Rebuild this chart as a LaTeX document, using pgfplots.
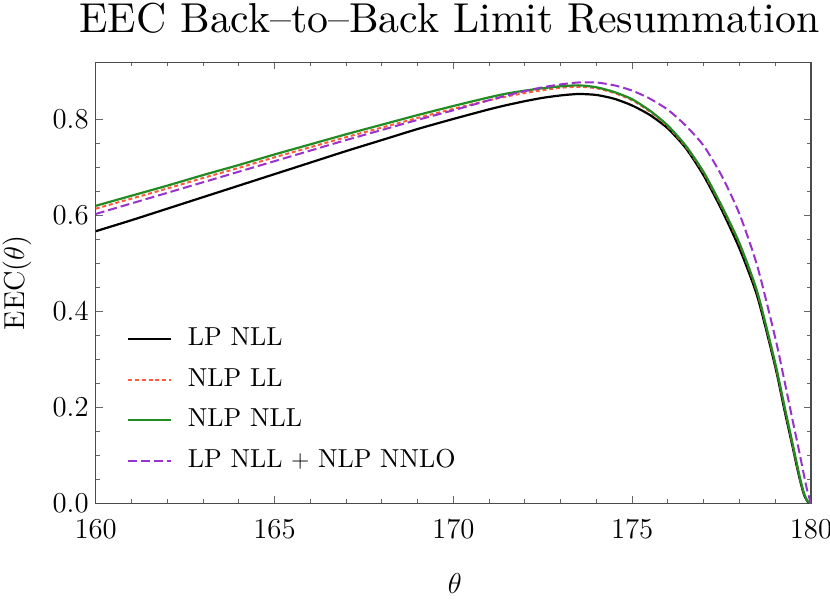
\documentclass[border=0pt]{standalone}
\usepackage{pgfplots}
\pgfplotsset{compat=1.18}
\DeclareFontFamily{TU}{lmrten}{}
\DeclareFontShape{TU}{lmrten}{m}{n}{<-> "[lmroman10-regular]:mapping=tex-text;"}{}
\newcommand\tenrm[2]{\fontfamily{lmrten}\fontseries{m}\fontshape{n}\fontsize{#1}{#2}\selectfont}
\definecolor{cgreen}{RGB}{34,139,34}
\definecolor{corange}{RGB}{255,90,60}
\definecolor{cpurple}{RGB}{153,50,204}
\begin{document}
\begin{tikzpicture}
\useasboundingbox (-47.85pt,-50.35pt) rectangle (367.1pt,251.65pt);
\begin{axis}[
 at={(0,0)}, anchor=south west,
 scale only axis, width=357.6pt, height=220.5pt,
 xmin=160, xmax=180, ymin=0, ymax=0.919,
 xtick={160,165,...,180}, ytick={0,0.2,0.4,0.6,0.8},
 minor x tick num=4, minor y tick num=3,
 tick align=inside,
 major tick length=3.5pt, minor tick length=2pt,
 every tick/.style={black!60, line width=0.5pt},
 axis line style={black!70, line width=0.6pt},
 tick label style={font=\fontsize{14.4}{17}\selectfont},
 xticklabel style={yshift=-5pt},
 yticklabel style={/pgf/number format/.cd, fixed, fixed zerofill, precision=1},
 title={EEC Back--to--Back Limit Resummation},
 title style={at={(0.5,1)}, anchor=base, inner sep=0pt, xshift=-2pt, yshift=8.8pt, font=\tenrm{20.9}{25}},
 xlabel={$\theta$}, ylabel={$\mathrm{EEC}(\theta)$},
 label style={font=\fontsize{14.4}{17}\selectfont},
 xlabel style={at={(axis description cs:0.502,-0.181)}, anchor=center},
 ylabel style={at={(axis description cs:-0.110,0.50)}, anchor=center},
 legend style={at={(axis description cs:0.0433,0.402)}, anchor=north west, draw=none, fill=none,
   inner sep=0pt, font=\tenrm{13}{16}, row sep=7.8pt,
   nodes={inner sep=0pt, text height=9.5pt, text depth=3pt},
   /tikz/every odd column/.append style={column sep=7.8pt}},
 legend cell align=left,
 legend image code/.code={\draw[#1] (0pt,0pt) -- (21.5pt,0pt);},
]
\addplot[black, line width=1.1pt, smooth, tension=0.4] coordinates {
(160,0.567) (161,0.590) (162,0.614) (163,0.638) (164,0.662) (165,0.686) (166,0.710) (167,0.734) (168,0.757) (169,0.780) (170,0.801) (171,0.821) (171.5,0.830) (172,0.838) (172.5,0.845) (173,0.850) (173.5,0.853) (174,0.851) (174.5,0.843) (175,0.829) (175.5,0.809) (176,0.781) (176.5,0.740) (177,0.683) (177.5,0.612) (178,0.531) (178.5,0.431) (179,0.285) (179.25,0.197) (179.5,0.113) (179.6,0.078) (179.7,0.046) (179.8,0.019) (179.9,0.004) (180,0)};
\addlegendentry{LP NLL}
\addplot[corange, line width=1pt, dash pattern=on 2pt off 1.4pt, smooth, tension=0.4] coordinates {
(160,0.614) (161,0.635) (162,0.656) (163,0.678) (164,0.699) (165,0.721) (166,0.742) (167,0.763) (168,0.783) (169,0.803) (170,0.822) (171,0.840) (171.5,0.848) (172,0.855) (172.5,0.861) (173,0.866) (173.5,0.868) (174,0.865) (174.5,0.855) (175,0.840) (175.5,0.816) (176,0.785) (176.5,0.743) (177,0.688) (177.5,0.618) (178,0.540) (178.5,0.438) (179,0.290) (179.25,0.203) (179.5,0.117) (179.6,0.082) (179.7,0.049) (179.8,0.021) (179.9,0.005) (180,0)};
\addlegendentry{NLP LL}
\addplot[cgreen, line width=1.1pt, smooth, tension=0.4] coordinates {
(160,0.620) (161,0.641) (162,0.662) (163,0.684) (164,0.705) (165,0.727) (166,0.748) (167,0.769) (168,0.789) (169,0.809) (170,0.828) (171,0.846) (171.5,0.854) (172,0.860) (172.5,0.865) (173,0.869) (173.5,0.871) (174,0.867) (174.5,0.857) (175,0.842) (175.5,0.818) (176,0.787) (176.5,0.745) (177,0.690) (177.5,0.620) (178,0.542) (178.5,0.440) (179,0.292) (179.25,0.205) (179.5,0.119) (179.6,0.084) (179.7,0.050) (179.8,0.022) (179.9,0.005) (180,0)};
\addlegendentry{NLP NLL}
\addplot[cpurple, line width=1pt, dash pattern=on 4.5pt off 2pt, smooth, tension=0.4] coordinates {
(160,0.603) (161,0.625) (162,0.647) (163,0.669) (164,0.691) (165,0.713) (166,0.735) (167,0.757) (168,0.778) (169,0.799) (170,0.819) (171,0.840) (171.5,0.850) (172,0.859) (172.5,0.867) (173,0.873) (173.5,0.877) (174,0.877) (174.5,0.871) (175,0.860) (175.5,0.843) (176,0.820) (176.5,0.787) (177,0.745) (177.5,0.683) (178,0.603) (178.5,0.494) (179,0.345) (179.25,0.258) (179.5,0.168) (179.6,0.133) (179.7,0.097) (179.8,0.060) (179.9,0.025) (180,0)};
\addlegendentry{LP NLL $+$ NLP NNLO}
\end{axis}
\end{tikzpicture}
\end{document}
